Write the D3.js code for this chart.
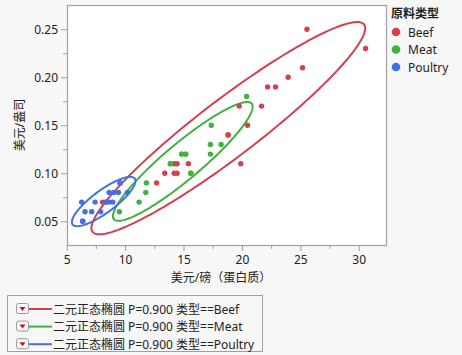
<!DOCTYPE html>
<html><head><meta charset="utf-8">
<script src="https://cdn.jsdelivr.net/npm/d3@7"></script>
<style>
html,body{margin:0;padding:0;background:#f7f7f7;}
svg{display:block;font-family:"Noto Sans","Noto Sans CJK SC",sans-serif;}
</style></head>
<body><svg id="c" width="462" height="355"></svg>
<script>
// ---- data (overlapping points appear as duplicates) ----
const categories = ["Beef", "Meat", "Poultry"];
const beefCost  = [8.07, 12.7, 13.4, 14.2, 14.45, 14.2, 14.45, 15.42, 19.9, 18.82, 18.82, 20.48, 19.77, 21.68, 22.2, 22.88, 23.96, 25.19, 30.59, 25.57];
const beefPrice = [0.07, 0.09, 0.10, 0.10, 0.10, 0.11, 0.11, 0.11, 0.11, 0.14, 0.14, 0.15, 0.17, 0.17, 0.19, 0.19, 0.20, 0.21, 0.23, 0.25];
const meatCost  = [9.51, 11.2, 11.77, 11.82, 13.88, 13.88, 14.85, 14.85, 15.19, 15.19, 15.62, 15.62, 17.3, 17.3, 18.22, 17.38, 20.4];
const meatPrice = [0.06, 0.07, 0.08, 0.09, 0.11, 0.11, 0.12, 0.12, 0.12, 0.12, 0.10, 0.10, 0.13, 0.12, 0.13, 0.15, 0.18];
const poultryCost  = [9.57, 9.57, 8.63, 9.03, 9.43, 10.2, 6.28, 7.43, 8.35, 8.35, 8.65, 8.95, 6.57, 7.14, 7.91, 6.37, 6.37];
const poultryPrice = [0.09, 0.09, 0.08, 0.08, 0.08, 0.08, 0.07, 0.07, 0.07, 0.07, 0.07, 0.07, 0.06, 0.06, 0.06, 0.05, 0.05];
const xTicks = [5, 10, 15, 20, 25, 30];
const yTicks = [0.05, 0.10, 0.15, 0.20, 0.25];
const ellipseP = 0.9;
const legendTitle = "原料类型";
const xTitle = "美元/磅（蛋白质）";
const yTitle = "美元/盎司";
const lineLabels = ["二元正态椭圆 P=0.900 类型==Beef", "二元正态椭圆 P=0.900 类型==Meat", "二元正态椭圆 P=0.900 类型==Poultry"];

const colors = ["#d5404f", "#3fb23f", "#4470e0"];
const series = [
  {name: categories[0], xs: beefCost, ys: beefPrice},
  {name: categories[1], xs: meatCost, ys: meatPrice},
  {name: categories[2], xs: poultryCost, ys: poultryPrice}
];

const svg = d3.select("#c");
const P = {l: 67, r: 387, t: 5, b: 245};
const x = d3.scaleLinear().domain([5, 30]).range([66.7, 358.7]);
const y = d3.scaleLinear().domain([0.05, 0.25]).range([221.3, 29.3]);

svg.append("rect").attr("x", P.l).attr("y", P.t).attr("width", P.r - P.l).attr("height", P.b - P.t)
  .attr("fill", "#fff");

svg.append("defs").append("clipPath").attr("id", "clip").append("rect")
  .attr("x", P.l).attr("y", P.t).attr("width", P.r - P.l).attr("height", P.b - P.t);

const xAxis = svg.append("g").attr("transform", `translate(0,${P.b})`)
  .call(d3.axisBottom(x).tickValues(xTicks).tickSize(6).tickSizeOuter(0).tickFormat(d3.format("d")));
const xMinor = svg.append("g").attr("transform", `translate(0,${P.b})`)
  .call(d3.axisBottom(x).tickValues(d3.range(7.5, 30, 5)).tickSize(4).tickFormat(""));
const yAxis = svg.append("g").attr("transform", `translate(${P.l},0)`)
  .call(d3.axisLeft(y).tickValues(yTicks).tickSize(6).tickSizeOuter(0).tickFormat(d3.format(".2f")));
const yMinor = svg.append("g").attr("transform", `translate(${P.l},0)`)
  .call(d3.axisLeft(y).tickValues([0.075, 0.125, 0.175, 0.225]).tickSize(4).tickFormat(""));
[xAxis, xMinor, yAxis, yMinor].forEach(g => {
  g.select(".domain").remove();
  g.selectAll("line").attr("stroke", "#a0a0a0");
  g.selectAll("text").attr("fill", "#222").style("font-size", "12px")
   .style("font-family", "'Noto Sans','Noto Sans CJK SC',sans-serif");
});
xAxis.selectAll("text").attr("dy", "0.71em").attr("y", 10);
yAxis.selectAll("text").attr("x", -9);

svg.append("rect").attr("x", P.l + 0.5).attr("y", P.t + 0.5).attr("width", P.r - P.l - 1).attr("height", P.b - P.t)
  .attr("fill", "none").attr("stroke", "#a0a0a0").attr("stroke-width", 1.2);

svg.append("text").attr("x", 221).attr("y", 282).attr("text-anchor", "middle")
  .attr("font-size", 12).attr("fill", "#222").text(xTitle);
svg.append("text").attr("transform", "translate(24,125) rotate(-90)").attr("text-anchor", "middle")
  .attr("font-size", 12).attr("fill", "#222").text(yTitle);

const k = Math.sqrt(-2 * Math.log(1 - ellipseP));
function ellipse(xs, ys) {
  const n = xs.length, mx = d3.mean(xs), my = d3.mean(ys);
  let sxx = 0, syy = 0, sxy = 0;
  for (let i = 0; i < n; i++) {
    sxx += (xs[i] - mx) ** 2; syy += (ys[i] - my) ** 2; sxy += (xs[i] - mx) * (ys[i] - my);
  }
  sxx /= n - 1; syy /= n - 1; sxy /= n - 1;
  const a = Math.sqrt(sxx), b = sxy / a, c = Math.sqrt(Math.max(syy - b * b, 0));
  return d3.range(0, 361, 2).map(dg => {
    const t = dg * Math.PI / 180, u = Math.cos(t) * k, v = Math.sin(t) * k;
    return [mx + a * u, my + b * u + c * v];
  });
}
const gE = svg.append("g").attr("clip-path", "url(#clip)");
const line = d3.line().x(d => x(d[0])).y(d => y(d[1])).curve(d3.curveLinearClosed);
series.forEach((s, i) => {
  gE.append("path").attr("d", line(ellipse(s.xs, s.ys))).attr("fill", "none")
    .attr("stroke", colors[i]).attr("stroke-width", 2);
});
series.forEach((s, i) => {
  gE.append("g").selectAll("circle").data(s.xs.map((v, j) => [v, s.ys[j]])).join("circle")
    .attr("cx", d => x(d[0])).attr("cy", d => y(d[1])).attr("r", 2.7).attr("fill", colors[i]);
});

svg.append("text").attr("x", 391).attr("y", 18).attr("font-size", 12).attr("font-weight", "bold")
  .attr("fill", "#222").text(legendTitle);
categories.forEach((c, i) => {
  const cy = 32 + i * 17.5;
  svg.append("circle").attr("cx", 396).attr("cy", cy).attr("r", 4.3).attr("fill", colors[i]);
  svg.append("text").attr("x", 408).attr("y", cy + 4.5).attr("font-size", 12).attr("fill", "#222").text(c);
});

svg.append("rect").attr("x", 7.5).attr("y", 295.5).attr("width", 255).attr("height", 56)
  .attr("fill", "#f7f7f7").attr("stroke", "#a0a0a0");
lineLabels.forEach((t, i) => {
  const cy = 309 + i * 17.6;
  svg.append("rect").attr("x", 16.5).attr("y", cy - 5.5).attr("width", 12).attr("height", 10).attr("rx", 2)
    .attr("fill", "#fafafa").attr("stroke", "#9a9a9a");
  svg.append("path").attr("d", `M19.5,${cy - 2}L25.5,${cy - 2}L22.5,${cy + 2}Z`).attr("fill", "#cc1010");
  svg.append("line").attr("x1", 29).attr("x2", 52).attr("y1", cy).attr("y2", cy)
    .attr("stroke", colors[i]).attr("stroke-width", 2);
  svg.append("text").attr("x", 53).attr("y", cy + 4.5).attr("font-size", 12).attr("fill", "#222").text(t);
});
</script></body></html>
